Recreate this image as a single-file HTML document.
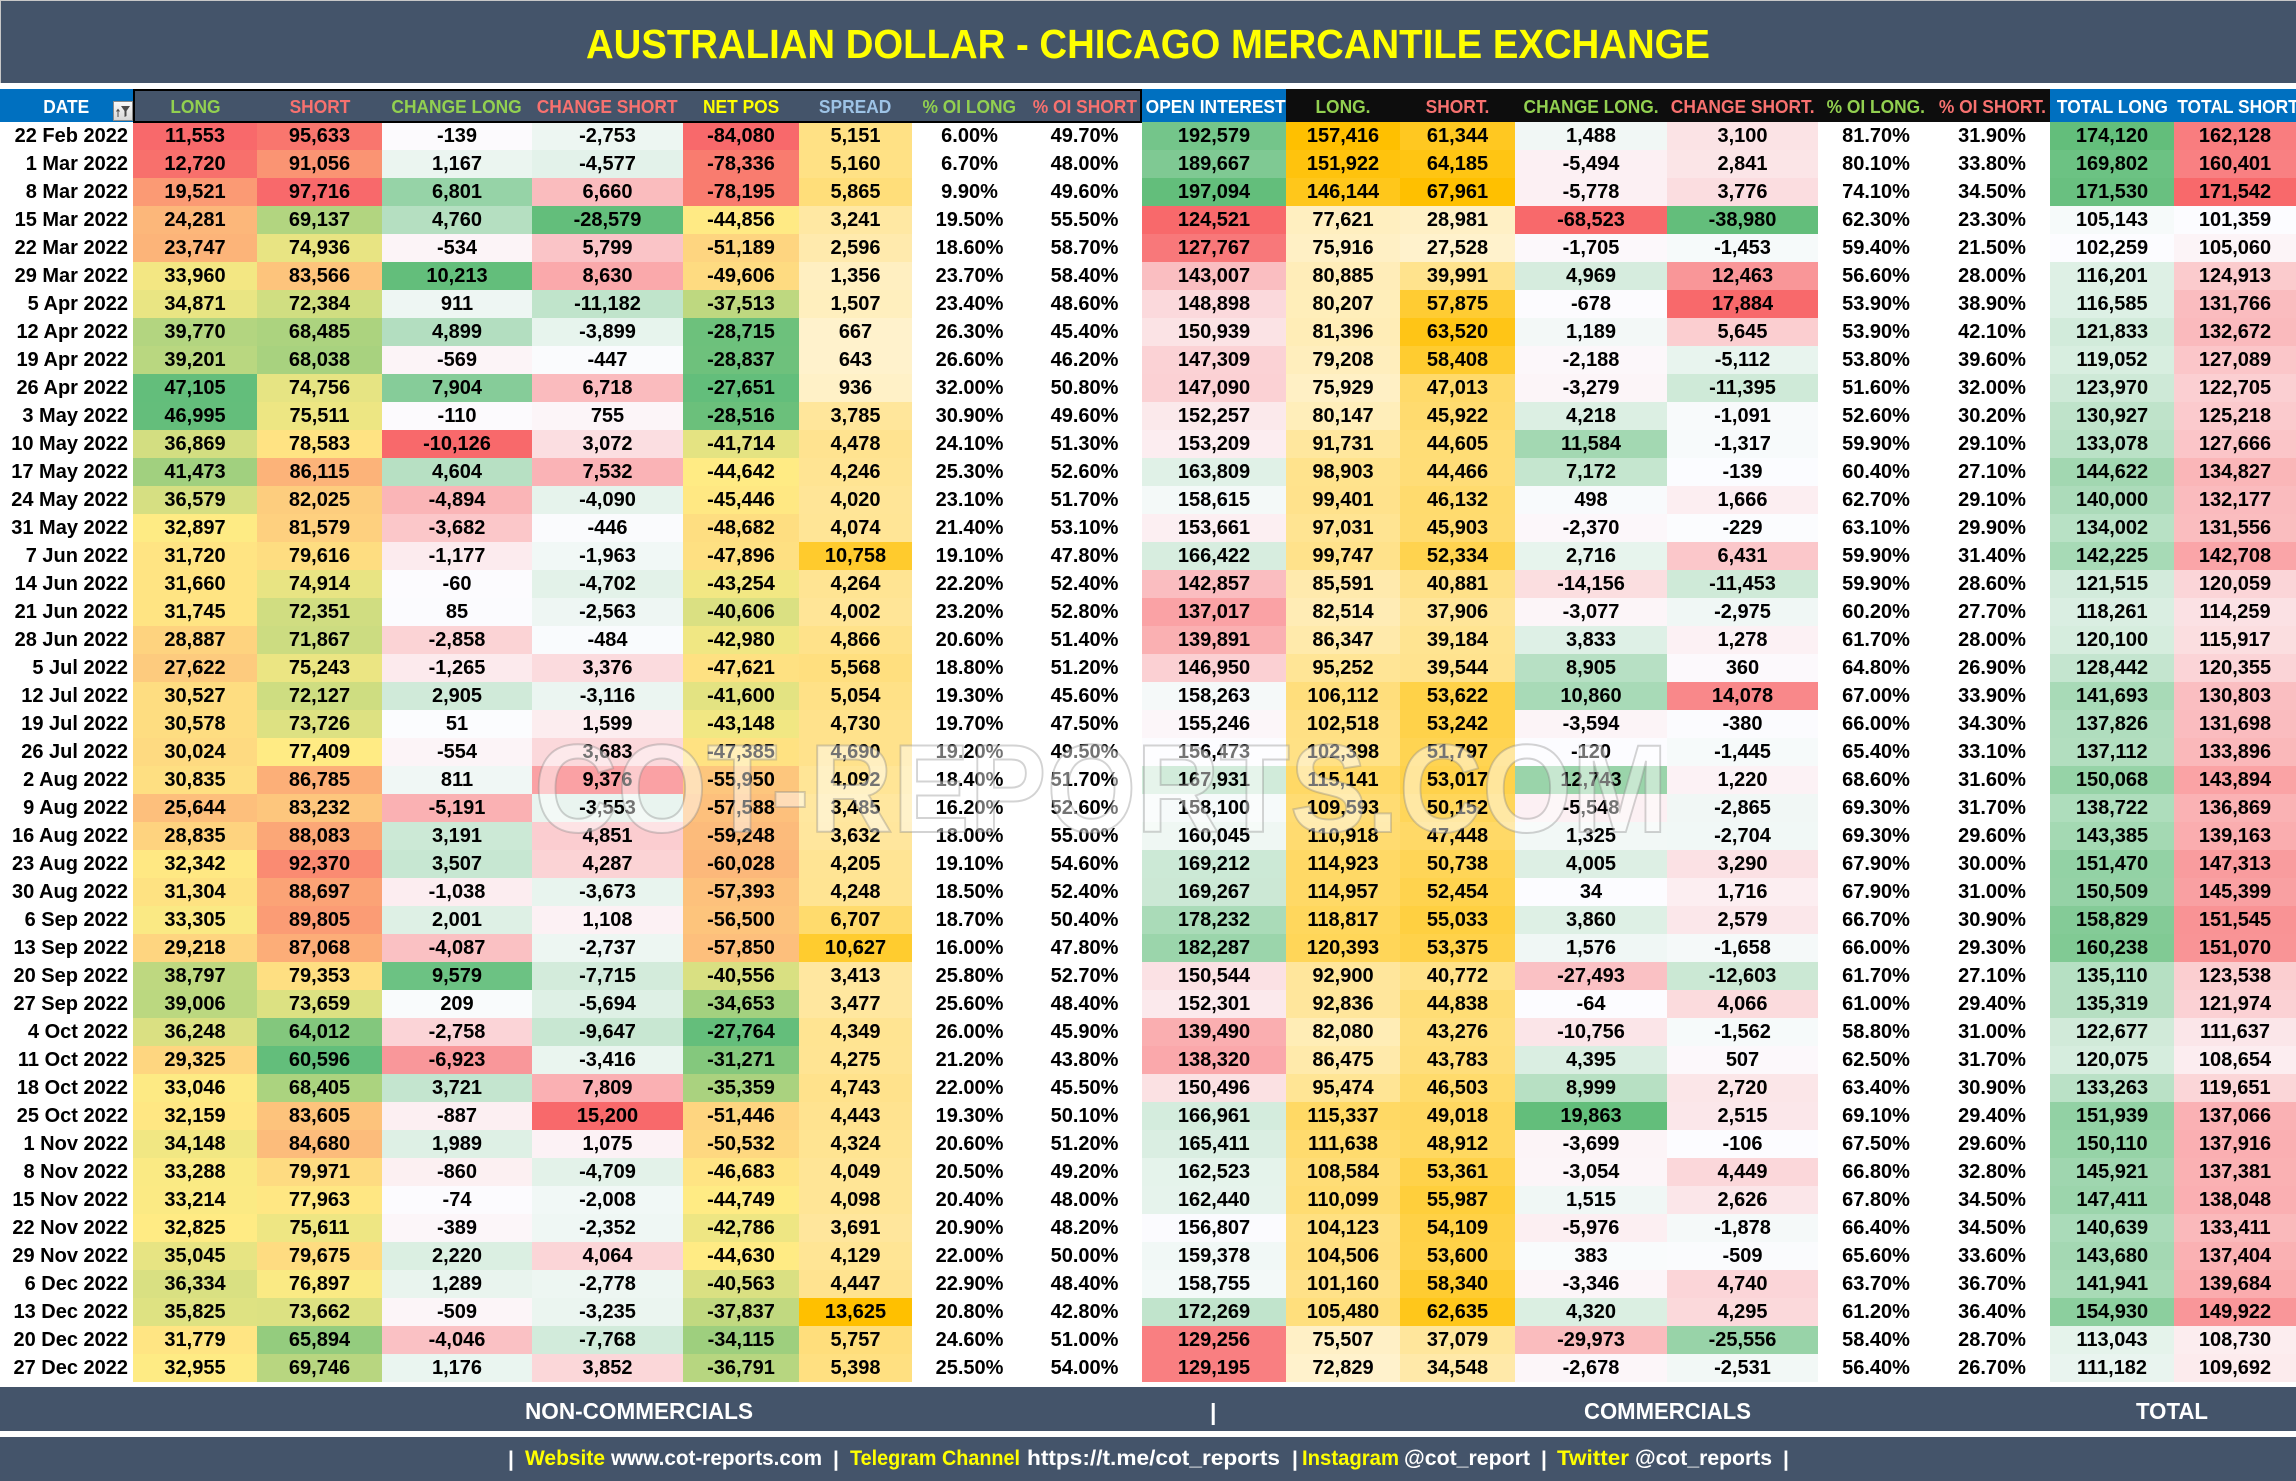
<!DOCTYPE html>
<html><head><meta charset="utf-8">
<style>
html,body{margin:0;padding:0;background:#fff;width:2296px;height:1481px;overflow:hidden;}
#wrap{position:relative;width:2296px;height:1481px;}
table{position:absolute;left:0;top:89px;width:2296px;table-layout:fixed;border-collapse:collapse;border-spacing:0;}
td{padding:0;text-align:center;white-space:nowrap;}
thead td{height:33px;line-height:33px;font-weight:bold;font-size:18.3px;font-family:"Liberation Sans",Arial,sans-serif;}
thead td span{display:inline-block;transform:scaleX(0.95);position:relative;top:1px;}
tbody td{height:28px;line-height:28px;font-weight:bold;font-size:20px;font-family:"Liberation Sans",Arial,sans-serif;color:#000;overflow:hidden;}
tbody td.d{text-align:right;padding-right:5px;}
.bl{background:#0070C0;color:#fff;}
.ds{background:#44546A;}
.bk{background:#0D0D0D;}
.g{color:#92D050;}.r{color:#F8716F;}.y{color:#FFFF00;}.lb{color:#9DC3E6;}.w{color:#fff;}
#hb{position:absolute;left:133px;top:89px;width:1009px;height:34px;border:2px solid #000;box-sizing:border-box;pointer-events:none;}
</style></head><body><div id="wrap">
<svg style="position:absolute;left:0;top:0" width="2296" height="83">
<rect x="0" y="0" width="2296" height="83" fill="#44546A"/>
<rect x="0" y="0" width="2296" height="1" fill="#C8C8C8"/>
<rect x="0" y="0" width="1" height="83" fill="#C8C8C8"/>
<text x="586" y="58" font-family="Liberation Sans, Arial, sans-serif" font-weight="bold" font-size="41" fill="#FFFF00" textLength="1124" lengthAdjust="spacingAndGlyphs">AUSTRALIAN DOLLAR - CHICAGO MERCANTILE EXCHANGE</text>
</svg>
<table id="t">
<colgroup><col style="width:133px"><col style="width:124px"><col style="width:125px"><col style="width:150px"><col style="width:151px"><col style="width:116px"><col style="width:113px"><col style="width:115px"><col style="width:115px"><col style="width:144px"><col style="width:114px"><col style="width:115px"><col style="width:152px"><col style="width:151px"><col style="width:116px"><col style="width:116px"><col style="width:124px"><col style="width:122px"></colgroup>
<thead><tr>
<td class="bl"><span>DATE</span></td>
<td class="ds g"><span>LONG</span></td>
<td class="ds r"><span>SHORT</span></td>
<td class="ds g"><span>CHANGE LONG</span></td>
<td class="ds r"><span>CHANGE SHORT</span></td>
<td class="ds y"><span>NET POS</span></td>
<td class="ds lb"><span>SPREAD</span></td>
<td class="ds g"><span>% OI LONG</span></td>
<td class="ds r"><span>% OI SHORT</span></td>
<td class="bl"><span>OPEN INTEREST</span></td>
<td class="bk g"><span>LONG.</span></td>
<td class="bk r"><span>SHORT.</span></td>
<td class="bk g"><span>CHANGE LONG.</span></td>
<td class="bk r"><span>CHANGE SHORT.</span></td>
<td class="bk g"><span>% OI LONG.</span></td>
<td class="bk r"><span>% OI SHORT.</span></td>
<td class="bl"><span>TOTAL LONG</span></td>
<td class="bl"><span>TOTAL SHORT</span></td>
</tr></thead>
<tbody>
<tr><td class="d">22 Feb 2022</td><td>11,553</td><td>95,633</td><td>-139</td><td>-2,753</td><td>-84,080</td><td>5,151</td><td>6.00%</td><td>49.70%</td><td>192,579</td><td>157,416</td><td>61,344</td><td>1,488</td><td>3,100</td><td>81.70%</td><td>31.90%</td><td>174,120</td><td>162,128</td></tr>
<tr><td class="d">1 Mar 2022</td><td>12,720</td><td>91,056</td><td>1,167</td><td>-4,577</td><td>-78,336</td><td>5,160</td><td>6.70%</td><td>48.00%</td><td>189,667</td><td>151,922</td><td>64,185</td><td>-5,494</td><td>2,841</td><td>80.10%</td><td>33.80%</td><td>169,802</td><td>160,401</td></tr>
<tr><td class="d">8 Mar 2022</td><td>19,521</td><td>97,716</td><td>6,801</td><td>6,660</td><td>-78,195</td><td>5,865</td><td>9.90%</td><td>49.60%</td><td>197,094</td><td>146,144</td><td>67,961</td><td>-5,778</td><td>3,776</td><td>74.10%</td><td>34.50%</td><td>171,530</td><td>171,542</td></tr>
<tr><td class="d">15 Mar 2022</td><td>24,281</td><td>69,137</td><td>4,760</td><td>-28,579</td><td>-44,856</td><td>3,241</td><td>19.50%</td><td>55.50%</td><td>124,521</td><td>77,621</td><td>28,981</td><td>-68,523</td><td>-38,980</td><td>62.30%</td><td>23.30%</td><td>105,143</td><td>101,359</td></tr>
<tr><td class="d">22 Mar 2022</td><td>23,747</td><td>74,936</td><td>-534</td><td>5,799</td><td>-51,189</td><td>2,596</td><td>18.60%</td><td>58.70%</td><td>127,767</td><td>75,916</td><td>27,528</td><td>-1,705</td><td>-1,453</td><td>59.40%</td><td>21.50%</td><td>102,259</td><td>105,060</td></tr>
<tr><td class="d">29 Mar 2022</td><td>33,960</td><td>83,566</td><td>10,213</td><td>8,630</td><td>-49,606</td><td>1,356</td><td>23.70%</td><td>58.40%</td><td>143,007</td><td>80,885</td><td>39,991</td><td>4,969</td><td>12,463</td><td>56.60%</td><td>28.00%</td><td>116,201</td><td>124,913</td></tr>
<tr><td class="d">5 Apr 2022</td><td>34,871</td><td>72,384</td><td>911</td><td>-11,182</td><td>-37,513</td><td>1,507</td><td>23.40%</td><td>48.60%</td><td>148,898</td><td>80,207</td><td>57,875</td><td>-678</td><td>17,884</td><td>53.90%</td><td>38.90%</td><td>116,585</td><td>131,766</td></tr>
<tr><td class="d">12 Apr 2022</td><td>39,770</td><td>68,485</td><td>4,899</td><td>-3,899</td><td>-28,715</td><td>667</td><td>26.30%</td><td>45.40%</td><td>150,939</td><td>81,396</td><td>63,520</td><td>1,189</td><td>5,645</td><td>53.90%</td><td>42.10%</td><td>121,833</td><td>132,672</td></tr>
<tr><td class="d">19 Apr 2022</td><td>39,201</td><td>68,038</td><td>-569</td><td>-447</td><td>-28,837</td><td>643</td><td>26.60%</td><td>46.20%</td><td>147,309</td><td>79,208</td><td>58,408</td><td>-2,188</td><td>-5,112</td><td>53.80%</td><td>39.60%</td><td>119,052</td><td>127,089</td></tr>
<tr><td class="d">26 Apr 2022</td><td>47,105</td><td>74,756</td><td>7,904</td><td>6,718</td><td>-27,651</td><td>936</td><td>32.00%</td><td>50.80%</td><td>147,090</td><td>75,929</td><td>47,013</td><td>-3,279</td><td>-11,395</td><td>51.60%</td><td>32.00%</td><td>123,970</td><td>122,705</td></tr>
<tr><td class="d">3 May 2022</td><td>46,995</td><td>75,511</td><td>-110</td><td>755</td><td>-28,516</td><td>3,785</td><td>30.90%</td><td>49.60%</td><td>152,257</td><td>80,147</td><td>45,922</td><td>4,218</td><td>-1,091</td><td>52.60%</td><td>30.20%</td><td>130,927</td><td>125,218</td></tr>
<tr><td class="d">10 May 2022</td><td>36,869</td><td>78,583</td><td>-10,126</td><td>3,072</td><td>-41,714</td><td>4,478</td><td>24.10%</td><td>51.30%</td><td>153,209</td><td>91,731</td><td>44,605</td><td>11,584</td><td>-1,317</td><td>59.90%</td><td>29.10%</td><td>133,078</td><td>127,666</td></tr>
<tr><td class="d">17 May 2022</td><td>41,473</td><td>86,115</td><td>4,604</td><td>7,532</td><td>-44,642</td><td>4,246</td><td>25.30%</td><td>52.60%</td><td>163,809</td><td>98,903</td><td>44,466</td><td>7,172</td><td>-139</td><td>60.40%</td><td>27.10%</td><td>144,622</td><td>134,827</td></tr>
<tr><td class="d">24 May 2022</td><td>36,579</td><td>82,025</td><td>-4,894</td><td>-4,090</td><td>-45,446</td><td>4,020</td><td>23.10%</td><td>51.70%</td><td>158,615</td><td>99,401</td><td>46,132</td><td>498</td><td>1,666</td><td>62.70%</td><td>29.10%</td><td>140,000</td><td>132,177</td></tr>
<tr><td class="d">31 May 2022</td><td>32,897</td><td>81,579</td><td>-3,682</td><td>-446</td><td>-48,682</td><td>4,074</td><td>21.40%</td><td>53.10%</td><td>153,661</td><td>97,031</td><td>45,903</td><td>-2,370</td><td>-229</td><td>63.10%</td><td>29.90%</td><td>134,002</td><td>131,556</td></tr>
<tr><td class="d">7 Jun 2022</td><td>31,720</td><td>79,616</td><td>-1,177</td><td>-1,963</td><td>-47,896</td><td>10,758</td><td>19.10%</td><td>47.80%</td><td>166,422</td><td>99,747</td><td>52,334</td><td>2,716</td><td>6,431</td><td>59.90%</td><td>31.40%</td><td>142,225</td><td>142,708</td></tr>
<tr><td class="d">14 Jun 2022</td><td>31,660</td><td>74,914</td><td>-60</td><td>-4,702</td><td>-43,254</td><td>4,264</td><td>22.20%</td><td>52.40%</td><td>142,857</td><td>85,591</td><td>40,881</td><td>-14,156</td><td>-11,453</td><td>59.90%</td><td>28.60%</td><td>121,515</td><td>120,059</td></tr>
<tr><td class="d">21 Jun 2022</td><td>31,745</td><td>72,351</td><td>85</td><td>-2,563</td><td>-40,606</td><td>4,002</td><td>23.20%</td><td>52.80%</td><td>137,017</td><td>82,514</td><td>37,906</td><td>-3,077</td><td>-2,975</td><td>60.20%</td><td>27.70%</td><td>118,261</td><td>114,259</td></tr>
<tr><td class="d">28 Jun 2022</td><td>28,887</td><td>71,867</td><td>-2,858</td><td>-484</td><td>-42,980</td><td>4,866</td><td>20.60%</td><td>51.40%</td><td>139,891</td><td>86,347</td><td>39,184</td><td>3,833</td><td>1,278</td><td>61.70%</td><td>28.00%</td><td>120,100</td><td>115,917</td></tr>
<tr><td class="d">5 Jul 2022</td><td>27,622</td><td>75,243</td><td>-1,265</td><td>3,376</td><td>-47,621</td><td>5,568</td><td>18.80%</td><td>51.20%</td><td>146,950</td><td>95,252</td><td>39,544</td><td>8,905</td><td>360</td><td>64.80%</td><td>26.90%</td><td>128,442</td><td>120,355</td></tr>
<tr><td class="d">12 Jul 2022</td><td>30,527</td><td>72,127</td><td>2,905</td><td>-3,116</td><td>-41,600</td><td>5,054</td><td>19.30%</td><td>45.60%</td><td>158,263</td><td>106,112</td><td>53,622</td><td>10,860</td><td>14,078</td><td>67.00%</td><td>33.90%</td><td>141,693</td><td>130,803</td></tr>
<tr><td class="d">19 Jul 2022</td><td>30,578</td><td>73,726</td><td>51</td><td>1,599</td><td>-43,148</td><td>4,730</td><td>19.70%</td><td>47.50%</td><td>155,246</td><td>102,518</td><td>53,242</td><td>-3,594</td><td>-380</td><td>66.00%</td><td>34.30%</td><td>137,826</td><td>131,698</td></tr>
<tr><td class="d">26 Jul 2022</td><td>30,024</td><td>77,409</td><td>-554</td><td>3,683</td><td>-47,385</td><td>4,690</td><td>19.20%</td><td>49.50%</td><td>156,473</td><td>102,398</td><td>51,797</td><td>-120</td><td>-1,445</td><td>65.40%</td><td>33.10%</td><td>137,112</td><td>133,896</td></tr>
<tr><td class="d">2 Aug 2022</td><td>30,835</td><td>86,785</td><td>811</td><td>9,376</td><td>-55,950</td><td>4,092</td><td>18.40%</td><td>51.70%</td><td>167,931</td><td>115,141</td><td>53,017</td><td>12,743</td><td>1,220</td><td>68.60%</td><td>31.60%</td><td>150,068</td><td>143,894</td></tr>
<tr><td class="d">9 Aug 2022</td><td>25,644</td><td>83,232</td><td>-5,191</td><td>-3,553</td><td>-57,588</td><td>3,485</td><td>16.20%</td><td>52.60%</td><td>158,100</td><td>109,593</td><td>50,152</td><td>-5,548</td><td>-2,865</td><td>69.30%</td><td>31.70%</td><td>138,722</td><td>136,869</td></tr>
<tr><td class="d">16 Aug 2022</td><td>28,835</td><td>88,083</td><td>3,191</td><td>4,851</td><td>-59,248</td><td>3,632</td><td>18.00%</td><td>55.00%</td><td>160,045</td><td>110,918</td><td>47,448</td><td>1,325</td><td>-2,704</td><td>69.30%</td><td>29.60%</td><td>143,385</td><td>139,163</td></tr>
<tr><td class="d">23 Aug 2022</td><td>32,342</td><td>92,370</td><td>3,507</td><td>4,287</td><td>-60,028</td><td>4,205</td><td>19.10%</td><td>54.60%</td><td>169,212</td><td>114,923</td><td>50,738</td><td>4,005</td><td>3,290</td><td>67.90%</td><td>30.00%</td><td>151,470</td><td>147,313</td></tr>
<tr><td class="d">30 Aug 2022</td><td>31,304</td><td>88,697</td><td>-1,038</td><td>-3,673</td><td>-57,393</td><td>4,248</td><td>18.50%</td><td>52.40%</td><td>169,267</td><td>114,957</td><td>52,454</td><td>34</td><td>1,716</td><td>67.90%</td><td>31.00%</td><td>150,509</td><td>145,399</td></tr>
<tr><td class="d">6 Sep 2022</td><td>33,305</td><td>89,805</td><td>2,001</td><td>1,108</td><td>-56,500</td><td>6,707</td><td>18.70%</td><td>50.40%</td><td>178,232</td><td>118,817</td><td>55,033</td><td>3,860</td><td>2,579</td><td>66.70%</td><td>30.90%</td><td>158,829</td><td>151,545</td></tr>
<tr><td class="d">13 Sep 2022</td><td>29,218</td><td>87,068</td><td>-4,087</td><td>-2,737</td><td>-57,850</td><td>10,627</td><td>16.00%</td><td>47.80%</td><td>182,287</td><td>120,393</td><td>53,375</td><td>1,576</td><td>-1,658</td><td>66.00%</td><td>29.30%</td><td>160,238</td><td>151,070</td></tr>
<tr><td class="d">20 Sep 2022</td><td>38,797</td><td>79,353</td><td>9,579</td><td>-7,715</td><td>-40,556</td><td>3,413</td><td>25.80%</td><td>52.70%</td><td>150,544</td><td>92,900</td><td>40,772</td><td>-27,493</td><td>-12,603</td><td>61.70%</td><td>27.10%</td><td>135,110</td><td>123,538</td></tr>
<tr><td class="d">27 Sep 2022</td><td>39,006</td><td>73,659</td><td>209</td><td>-5,694</td><td>-34,653</td><td>3,477</td><td>25.60%</td><td>48.40%</td><td>152,301</td><td>92,836</td><td>44,838</td><td>-64</td><td>4,066</td><td>61.00%</td><td>29.40%</td><td>135,319</td><td>121,974</td></tr>
<tr><td class="d">4 Oct 2022</td><td>36,248</td><td>64,012</td><td>-2,758</td><td>-9,647</td><td>-27,764</td><td>4,349</td><td>26.00%</td><td>45.90%</td><td>139,490</td><td>82,080</td><td>43,276</td><td>-10,756</td><td>-1,562</td><td>58.80%</td><td>31.00%</td><td>122,677</td><td>111,637</td></tr>
<tr><td class="d">11 Oct 2022</td><td>29,325</td><td>60,596</td><td>-6,923</td><td>-3,416</td><td>-31,271</td><td>4,275</td><td>21.20%</td><td>43.80%</td><td>138,320</td><td>86,475</td><td>43,783</td><td>4,395</td><td>507</td><td>62.50%</td><td>31.70%</td><td>120,075</td><td>108,654</td></tr>
<tr><td class="d">18 Oct 2022</td><td>33,046</td><td>68,405</td><td>3,721</td><td>7,809</td><td>-35,359</td><td>4,743</td><td>22.00%</td><td>45.50%</td><td>150,496</td><td>95,474</td><td>46,503</td><td>8,999</td><td>2,720</td><td>63.40%</td><td>30.90%</td><td>133,263</td><td>119,651</td></tr>
<tr><td class="d">25 Oct 2022</td><td>32,159</td><td>83,605</td><td>-887</td><td>15,200</td><td>-51,446</td><td>4,443</td><td>19.30%</td><td>50.10%</td><td>166,961</td><td>115,337</td><td>49,018</td><td>19,863</td><td>2,515</td><td>69.10%</td><td>29.40%</td><td>151,939</td><td>137,066</td></tr>
<tr><td class="d">1 Nov 2022</td><td>34,148</td><td>84,680</td><td>1,989</td><td>1,075</td><td>-50,532</td><td>4,324</td><td>20.60%</td><td>51.20%</td><td>165,411</td><td>111,638</td><td>48,912</td><td>-3,699</td><td>-106</td><td>67.50%</td><td>29.60%</td><td>150,110</td><td>137,916</td></tr>
<tr><td class="d">8 Nov 2022</td><td>33,288</td><td>79,971</td><td>-860</td><td>-4,709</td><td>-46,683</td><td>4,049</td><td>20.50%</td><td>49.20%</td><td>162,523</td><td>108,584</td><td>53,361</td><td>-3,054</td><td>4,449</td><td>66.80%</td><td>32.80%</td><td>145,921</td><td>137,381</td></tr>
<tr><td class="d">15 Nov 2022</td><td>33,214</td><td>77,963</td><td>-74</td><td>-2,008</td><td>-44,749</td><td>4,098</td><td>20.40%</td><td>48.00%</td><td>162,440</td><td>110,099</td><td>55,987</td><td>1,515</td><td>2,626</td><td>67.80%</td><td>34.50%</td><td>147,411</td><td>138,048</td></tr>
<tr><td class="d">22 Nov 2022</td><td>32,825</td><td>75,611</td><td>-389</td><td>-2,352</td><td>-42,786</td><td>3,691</td><td>20.90%</td><td>48.20%</td><td>156,807</td><td>104,123</td><td>54,109</td><td>-5,976</td><td>-1,878</td><td>66.40%</td><td>34.50%</td><td>140,639</td><td>133,411</td></tr>
<tr><td class="d">29 Nov 2022</td><td>35,045</td><td>79,675</td><td>2,220</td><td>4,064</td><td>-44,630</td><td>4,129</td><td>22.00%</td><td>50.00%</td><td>159,378</td><td>104,506</td><td>53,600</td><td>383</td><td>-509</td><td>65.60%</td><td>33.60%</td><td>143,680</td><td>137,404</td></tr>
<tr><td class="d">6 Dec 2022</td><td>36,334</td><td>76,897</td><td>1,289</td><td>-2,778</td><td>-40,563</td><td>4,447</td><td>22.90%</td><td>48.40%</td><td>158,755</td><td>101,160</td><td>58,340</td><td>-3,346</td><td>4,740</td><td>63.70%</td><td>36.70%</td><td>141,941</td><td>139,684</td></tr>
<tr><td class="d">13 Dec 2022</td><td>35,825</td><td>73,662</td><td>-509</td><td>-3,235</td><td>-37,837</td><td>13,625</td><td>20.80%</td><td>42.80%</td><td>172,269</td><td>105,480</td><td>62,635</td><td>4,320</td><td>4,295</td><td>61.20%</td><td>36.40%</td><td>154,930</td><td>149,922</td></tr>
<tr><td class="d">20 Dec 2022</td><td>31,779</td><td>65,894</td><td>-4,046</td><td>-7,768</td><td>-34,115</td><td>5,757</td><td>24.60%</td><td>51.00%</td><td>129,256</td><td>75,507</td><td>37,079</td><td>-29,973</td><td>-25,556</td><td>58.40%</td><td>28.70%</td><td>113,043</td><td>108,730</td></tr>
<tr><td class="d">27 Dec 2022</td><td>32,955</td><td>69,746</td><td>1,176</td><td>3,852</td><td>-36,791</td><td>5,398</td><td>25.50%</td><td>54.00%</td><td>129,195</td><td>72,829</td><td>34,548</td><td>-2,678</td><td>-2,531</td><td>56.40%</td><td>26.70%</td><td>111,182</td><td>109,692</td></tr>
</tbody></table>
<div id="hb"></div>
<svg style="position:absolute;left:113px;top:101px" width="20" height="20">
<defs><linearGradient id="fg" x1="0" y1="0" x2="0" y2="1"><stop offset="0" stop-color="#FAFAFA"/><stop offset="1" stop-color="#D6D6D6"/></linearGradient></defs>
<rect x="0.5" y="0.5" width="19" height="19" fill="url(#fg)" stroke="#8A8A8A"/>
<path d="M8 5 L17 5 L13.5 10 L13.5 15 L11.5 16 L11.5 10 Z" fill="#4A4A4A"/>
<path d="M5 16 L5 9 M3.5 10.5 L5 8.5 L6.5 10.5" stroke="#4A4A4A" stroke-width="1" fill="none"/>
</svg>
<svg style="position:absolute;left:0;top:0;pointer-events:none" width="2296" height="1481">
<text x="534" y="832" font-family="Liberation Sans, Arial, sans-serif" font-weight="bold" font-size="125" textLength="1134" lengthAdjust="spacingAndGlyphs" fill="#FFFFFF" fill-opacity="0.45" stroke="#808080" stroke-opacity="0.35" stroke-width="2">COT-REPORTS.COM</text>
</svg>
<svg style="position:absolute;left:0;top:1382px" width="2296" height="99">
<rect x="0" y="5" width="2296" height="44" fill="#44546A"/>
<rect x="0" y="55" width="2296" height="44" fill="#44546A"/>
<g font-family="Liberation Sans, Arial, sans-serif" font-weight="bold" fill="#FFFFFF">
<text x="525" y="37" font-size="23" textLength="228" lengthAdjust="spacingAndGlyphs">NON-COMMERCIALS</text>
<text x="1210" y="38" font-size="23">|</text>
<text x="1584" y="37" font-size="23" textLength="167" lengthAdjust="spacingAndGlyphs">COMMERCIALS</text>
<text x="2136" y="37" font-size="23" textLength="72" lengthAdjust="spacingAndGlyphs">TOTAL</text>
<g font-size="21">
<text x="508" y="84">|</text>
<text x="525" y="83" fill="#FFFF00" textLength="80" lengthAdjust="spacingAndGlyphs">Website</text>
<text x="611" y="83" textLength="211" lengthAdjust="spacingAndGlyphs">www.cot-reports.com</text>
<text x="833" y="84">|</text>
<text x="850" y="83" fill="#FFFF00" textLength="170" lengthAdjust="spacingAndGlyphs">Telegram Channel</text>
<text x="1027" y="83" textLength="253" lengthAdjust="spacingAndGlyphs">https://t.me/cot_reports</text>
<text x="1292" y="84">|</text>
<text x="1302" y="83" fill="#FFFF00" textLength="97" lengthAdjust="spacingAndGlyphs">Instagram</text>
<text x="1404" y="83" textLength="126" lengthAdjust="spacingAndGlyphs">@cot_report</text>
<text x="1541" y="84">|</text>
<text x="1557" y="83" fill="#FFFF00" textLength="72" lengthAdjust="spacingAndGlyphs">Twitter</text>
<text x="1635" y="83" textLength="137" lengthAdjust="spacingAndGlyphs">@cot_reports</text>
<text x="1783" y="84">|</text>
</g></g>
</svg>
</div>
<script>
(function(){
var R=[248,105,107],Y=[255,235,132],G=[99,190,123],W=[252,252,255],L=[255,242,204],O=[255,192,0];
var spec={1:['3',R,Y,G],2:['3',G,Y,R],3:['0',R,G],4:['0',G,R],5:['3',R,Y,G],6:['2',L,O],9:['3',R,W,G],10:['2',L,O],11:['2',L,O],12:['0',R,G],13:['0',G,R],16:['2',W,G],17:['2',W,R]};
var rows=document.querySelectorAll('#t tbody tr');
function mix(a,b,t){if(!isFinite(t))t=0;t=Math.max(0,Math.min(1,t));return 'rgb('+a.map(function(v,i){return Math.round(v+(b[i]-v)*t);}).join(',')+')';}
Object.keys(spec).forEach(function(k){
var c=+k,s=spec[k],vals=[],cells=[];
for(var i=0;i<rows.length;i++){var td=rows[i].cells[c];cells.push(td);vals.push(parseFloat(td.textContent.replace(/,/g,'')));}
var so=vals.slice().sort(function(a,b){return a-b;});
var mn=so[0],mx=so[so.length-1],p=(so.length-1)*0.5,lo=Math.floor(p),hi=Math.ceil(p);
var med=so[lo]+(so[hi]-so[lo])*(p-lo);
cells.forEach(function(td,i){var v=vals[i],col;
if(s[0]==='3'){col=v<=med?mix(s[1],s[2],(v-mn)/(med-mn)):mix(s[2],s[3],(v-med)/(mx-med));}
else if(s[0]==='2'){col=mix(s[1],s[2],(v-mn)/(mx-mn));}
else{col=v<0?mix(W,s[1],v/mn):mix(W,s[2],v/mx);}
td.style.backgroundColor=col;});
});
})();
</script>
</body></html>
